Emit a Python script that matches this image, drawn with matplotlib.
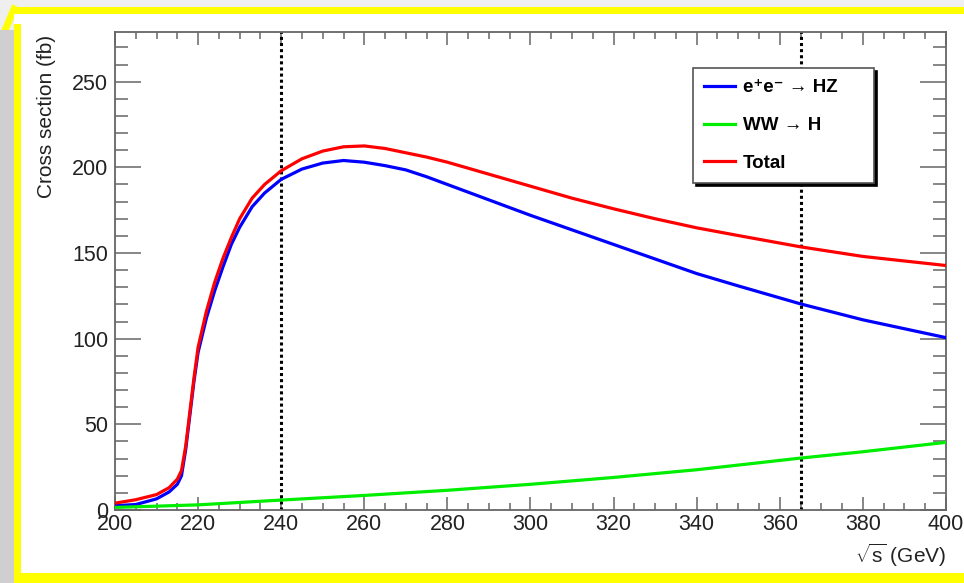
import numpy as np
import matplotlib
matplotlib.use('Agg')
import matplotlib.pyplot as plt
from matplotlib.patches import Rectangle
from matplotlib.lines import Line2D
from matplotlib.ticker import MultipleLocator

plt.rcParams['font.family'] = ['Liberation Sans', 'DejaVu Sans']
plt.rcParams['mathtext.fontset'] = 'custom'
plt.rcParams['mathtext.rm'] = 'Liberation Sans'

# centre-of-mass energy (GeV)
sqrt_s = [200, 205, 210, 213, 215, 216, 217, 218, 219, 220, 222, 224, 226, 228, 230,
          233, 236, 240, 245, 250, 255, 260, 265, 270, 275, 280, 285, 290, 300, 310,
          320, 330, 340, 350, 365, 380, 400]
# cross sections (fb)
xsec_hz = [2.5, 3.2, 6.5, 10.5, 15, 20, 35, 55, 75, 92, 112, 128, 142, 155, 165,
           177, 185, 193, 199, 202.5, 204, 203, 201, 198.5, 194.5, 190, 185.5, 181, 172, 163.5,
           155, 146.5, 138, 130.8, 120.3, 111, 100.6]
xsec_total = [4, 6, 9, 13, 18, 23, 37, 57, 77, 95, 116, 133, 147, 159, 170,
              182, 190, 198, 205, 209.5, 212, 212.5, 211, 208.5, 206, 203, 199.5, 196, 189, 182,
              175.8, 170, 164.7, 160.2, 153.6, 148, 142.7]
sqrt_s_ww = [200, 220, 240, 260, 280, 300, 320, 340, 365, 380, 400]
xsec_ww = [1.5, 3, 5.8, 8.5, 11.5, 15, 19, 23.5, 30.3, 34, 39.5]
energy_points = [240, 365]

labels = ['e\u207ae\u207b \u2192 HZ', 'WW \u2192 H', 'Total']
colors = ['#0000ff', '#00ee00', '#ff0000']

W, H = 964, 583
fig = plt.figure(figsize=(W / 100, H / 100), dpi=100, facecolor='#efefef')


def px_rect(x0, y0, x1, y1, **kw):
    # rectangle given in picture pixels (origin top-left)
    return Rectangle((x0 / W, 1 - y1 / H), (x1 - x0) / W, (y1 - y0) / H,
                     transform=fig.transFigure, zorder=-5, **kw)


# slide-like frame around the plot
fig.patches.append(px_rect(0, 30, 14, 583, facecolor='#cfcfcf', edgecolor='none'))
fig.patches.append(px_rect(14, 7, 964, 583, facecolor='white', edgecolor='none'))
fig.patches.append(px_rect(12, 7, 964, 14, facecolor='#ffff00', edgecolor='none'))
fig.patches.append(px_rect(14, 24, 21, 583, facecolor='#ffff00', edgecolor='none'))
fig.patches.append(px_rect(14, 573, 964, 583, facecolor='#ffff00', edgecolor='none'))
fig.lines.append(Line2D([0 / W, 14 / W], [1 - 42 / H, 1 - 9 / H], color='#ffff00',
                        lw=5, transform=fig.transFigure, zorder=-5))

ax = fig.add_axes([115 / W, 1 - 510 / H, 831 / W, 478 / H])
ax.set_facecolor('white')

ax.plot(sqrt_s, xsec_hz, color=colors[0], lw=2.3, label=labels[0], zorder=3)
ax.plot(sqrt_s_ww, xsec_ww, color=colors[1], lw=2.3, label=labels[1], zorder=3)
ax.plot(sqrt_s, xsec_total, color=colors[2], lw=2.3, label=labels[2], zorder=3)
for e in energy_points:
    ax.axvline(e, color='black', lw=2.2, linestyle=(0, (1, 1)), zorder=2)

ax.set_xlim(200, 400)
ax.set_ylim(0, 279)
ax.xaxis.set_major_locator(MultipleLocator(20))
ax.xaxis.set_minor_locator(MultipleLocator(5))
ax.yaxis.set_major_locator(MultipleLocator(50))
ax.yaxis.set_minor_locator(MultipleLocator(10))

for sp in ax.spines.values():
    sp.set_color('#666666')
    sp.set_linewidth(1.3)
ax.tick_params(which='both', direction='in', top=True, right=True,
               color='#666666', width=1.1, labelsize=15.5, labelcolor='#222222')
ax.tick_params(axis='x', which='major', length=9.5, pad=3)
ax.tick_params(axis='x', which='minor', length=5)
ax.tick_params(axis='y', which='major', length=19, pad=5)
ax.tick_params(axis='y', which='minor', length=9.5)

ax.set_ylabel('Cross section (fb)', fontsize=15, color='#222222', loc='top')
ax.yaxis.set_label_coords(-0.071, 0.994)
ax.set_xlabel(r'$\sqrt{\mathrm{s}}$ (GeV)', fontsize=15, color='#222222', loc='right')
ax.xaxis.set_label_coords(1.0, -0.066)

leg = ax.legend(loc='upper left', bbox_to_anchor=(0.6955, 0.8247, 0.218, 0.1),
                mode='expand', borderaxespad=0, fancybox=False,
                shadow={'color': 'black', 'alpha': 1},
                prop={'weight': 'bold', 'size': 13.5},
                handlelength=1.65, handletextpad=0.4, borderpad=0.6, labelspacing=1.1)
leg.get_frame().set_edgecolor('#555555')
leg.get_frame().set_linewidth(1.2)
leg.get_frame().set_alpha(1)
for h in leg.get_lines():
    h.set_linewidth(2.3)

fig.savefig('out.png', dpi=100, facecolor=fig.get_facecolor())
